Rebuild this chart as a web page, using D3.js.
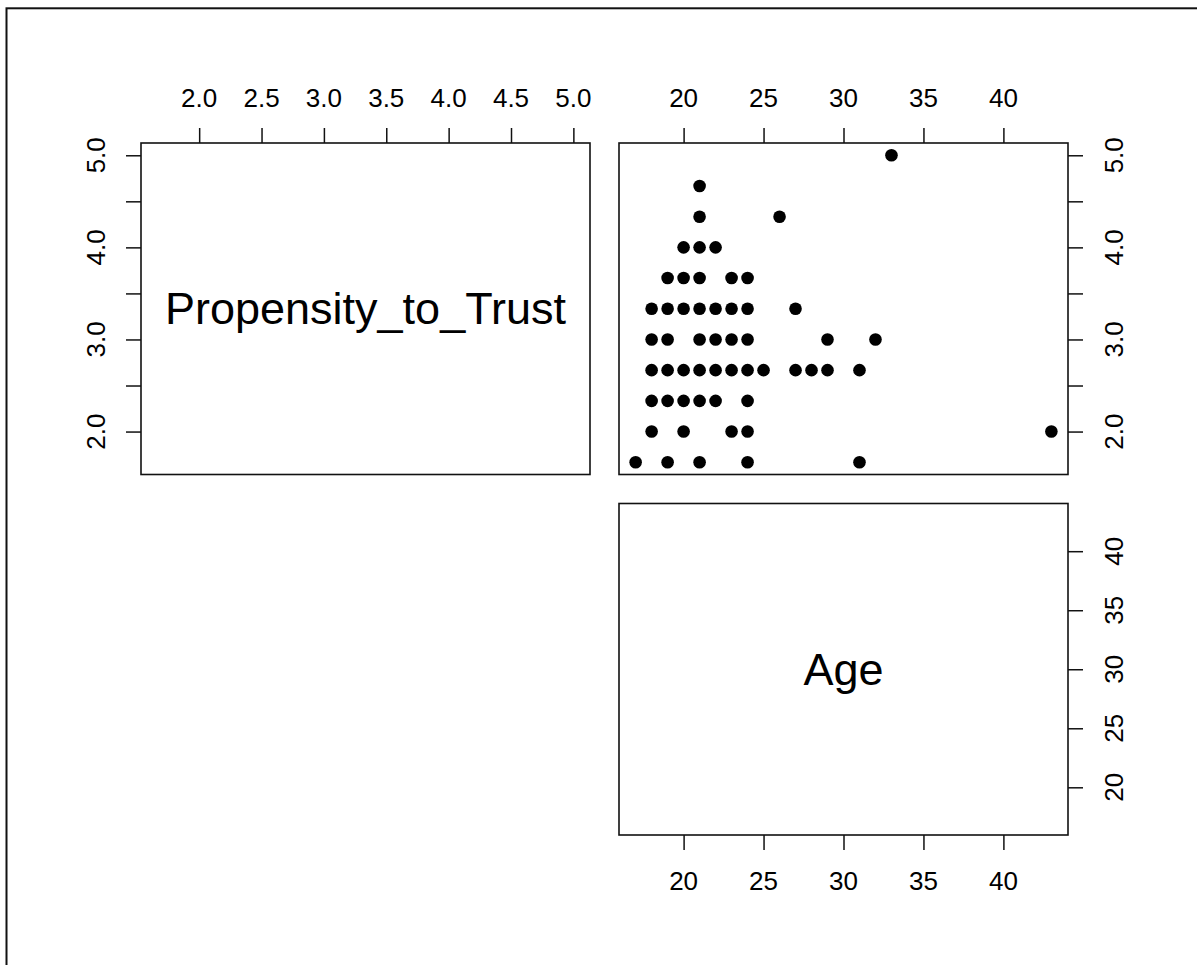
<!DOCTYPE html>
<html>
<head>
<meta charset="utf-8">
<script src="https://cdn.jsdelivr.net/npm/d3@7"></script>
<style>
  html, body { margin: 0; padding: 0; background: #fff; }
  svg { display: block; }
  text { font-family: "Liberation Sans", Arial, Helvetica, sans-serif; fill: #000; }
</style>
</head>
<body>
<svg id="chart" width="1197" height="965"></svg>
<script>
// Variable names shown on the diagonal
const variables = ["Propensity_to_Trust", "Age"];

// One entry per respondent (parallel arrays)
const age = [
  33,
  21,
  21, 26,
  20, 21, 22,
  19, 20, 21, 23, 24,
  18, 19, 20, 21, 22, 23, 24, 27,
  18, 19, 21, 22, 23, 24, 29, 32,
  18, 19, 20, 21, 22, 23, 24, 25, 27, 28, 29, 31,
  18, 19, 20, 21, 22, 24,
  18, 20, 23, 24, 43,
  17, 19, 21, 24, 31
];
const trust = [
  5.000,
  4.667,
  4.333, 4.333,
  4.000, 4.000, 4.000,
  3.667, 3.667, 3.667, 3.667, 3.667,
  3.333, 3.333, 3.333, 3.333, 3.333, 3.333, 3.333, 3.333,
  3.000, 3.000, 3.000, 3.000, 3.000, 3.000, 3.000, 3.000,
  2.667, 2.667, 2.667, 2.667, 2.667, 2.667, 2.667, 2.667, 2.667, 2.667, 2.667, 2.667,
  2.333, 2.333, 2.333, 2.333, 2.333, 2.333,
  2.000, 2.000, 2.000, 2.000, 2.000,
  1.667, 1.667, 1.667, 1.667, 1.667
];

// Tick values and the labels printed at them
const trustTicks = [2.0, 2.5, 3.0, 3.5, 4.0, 4.5, 5.0];
const trustLabelsHorizontal = ["2.0", "2.5", "3.0", "3.5", "4.0", "4.5", "5.0"];
const trustLabelsVertical = ["2.0", "", "3.0", "", "4.0", "", "5.0"];
const ageTicks = [20, 25, 30, 35, 40];
const ageLabels = ["20", "25", "30", "35", "40"];

const svg = d3.select("#chart");

// Outer frame
svg.append("rect")
  .attr("x", 6.5).attr("y", 8.3)
  .attr("width", 1300).attr("height", 1100)
  .attr("fill", "none").attr("stroke", "#111").attr("stroke-width", 2);

// Panel grid geometry
const left0 = 141, top0 = 143, pw = 449, ph = 331.5, gap = 29;
const colX = [left0, left0 + pw + gap];
const rowY = [top0, top0 + ph + gap];

// R-style 4% padded domain
function padded(values) {
  const [lo, hi] = d3.extent(values);
  const d = (hi - lo) * 0.04;
  return [lo - d, hi + d];
}
const domains = [padded(trust), padded(age)];
const dataCols = [trust, age];

function xScale(j) { return d3.scaleLinear().domain(domains[j]).range([colX[j], colX[j] + pw]); }
function yScale(i) { return d3.scaleLinear().domain(domains[i]).range([rowY[i] + ph, rowY[i]]); }

const tickLen = 15, labelOffset = 36;
const fontSize = 26;
const capH = fontSize * 0.716;

function drawAxis(orient, scale, pos, ticks, labels) {
  const g = svg.append("g").attr("class", "axis " + orient);
  const axis = (orient === "top" ? d3.axisTop : orient === "bottom" ? d3.axisBottom :
                orient === "left" ? d3.axisLeft : d3.axisRight)(scale)
    .tickValues(ticks).tickSize(tickLen).tickFormat(() => "");
  if (orient === "top" || orient === "bottom") g.attr("transform", `translate(0,${pos})`);
  else g.attr("transform", `translate(${pos},0)`);
  g.call(axis);
  g.select(".domain").remove();
  g.selectAll(".tick line").attr("stroke", "#111").attr("stroke-width", 1.5);

  const lab = svg.append("g").attr("class", "labels " + orient);
  ticks.forEach((t, k) => {
    if (!labels[k]) return;
    const v = scale(t);
    const txt = lab.append("text").text(labels[k]).attr("font-size", fontSize).attr("text-anchor", "middle");
    if (orient === "top") txt.attr("x", v).attr("y", pos - labelOffset);
    else if (orient === "bottom") txt.attr("x", v).attr("y", pos + labelOffset + capH);
    else if (orient === "left") txt.attr("transform", `translate(${pos - labelOffset},${v}) rotate(-90)`);
    else txt.attr("transform", `translate(${pos + labelOffset + capH},${v}) rotate(-90)`);
  });
}

const n = variables.length;
for (let i = 0; i < n; i++) {
  for (let j = i; j < n; j++) {
    const x0 = colX[j], y0 = rowY[i];
    const sx = xScale(j), sy = yScale(i);

    if (i === j) {
      svg.append("text")
        .attr("x", x0 + pw / 2)
        .attr("y", y0 + ph / 2 + 15.5)
        .attr("text-anchor", "middle")
        .attr("font-size", 45)
        .text(variables[i]);
    } else {
      svg.append("g").selectAll("circle")
        .data(d3.range(age.length))
        .join("circle")
        .attr("cx", k => sx(dataCols[j][k]))
        .attr("cy", k => sy(dataCols[i][k]))
        .attr("r", 6.3)
        .attr("fill", "#000");
    }

    // panel box
    svg.append("rect")
      .attr("x", x0).attr("y", y0).attr("width", pw).attr("height", ph)
      .attr("fill", "none").attr("stroke", "#111").attr("stroke-width", 1.6);
  }
}

// Axes around the upper-triangle layout
const trustX = xScale(0), trustY = yScale(0), ageX = xScale(1), ageY = yScale(1);
drawAxis("top", trustX, rowY[0], trustTicks, trustLabelsHorizontal);
drawAxis("left", trustY, colX[0], trustTicks, trustLabelsVertical);
drawAxis("top", ageX, rowY[0], ageTicks, ageLabels);
drawAxis("right", trustY, colX[1] + pw, trustTicks, trustLabelsVertical);
drawAxis("right", ageY, colX[1] + pw, ageTicks, ageLabels);
drawAxis("bottom", ageX, rowY[1] + ph, ageTicks, ageLabels);
</script>
</body>
</html>
